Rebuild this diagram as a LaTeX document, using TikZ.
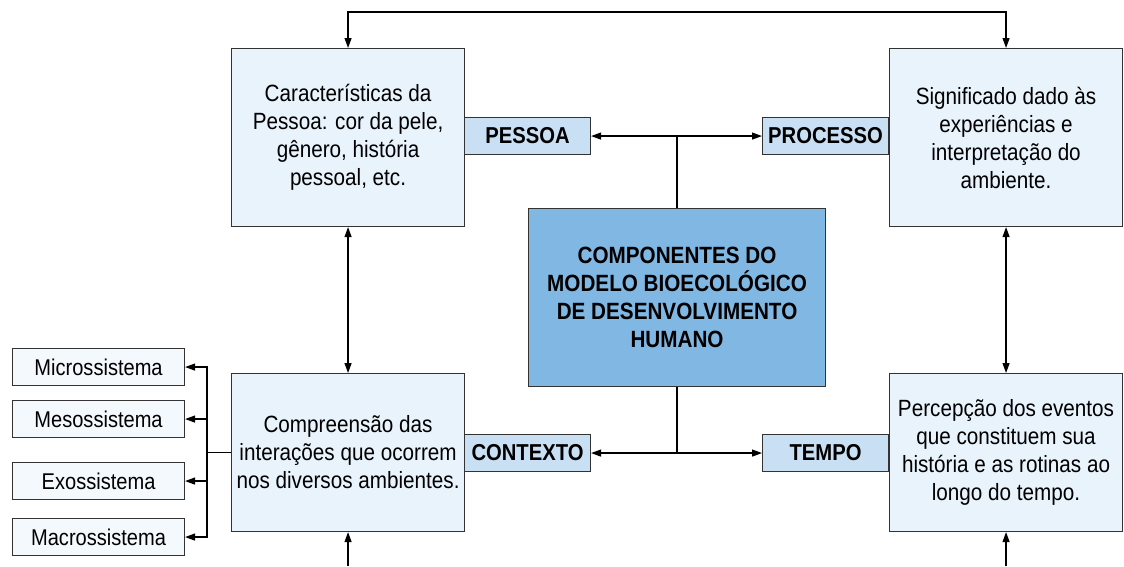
\documentclass[tikz,border=0pt]{standalone}
\usepackage{fontspec}
\setmainfont{Liberation Sans}[FakeStretch=0.88]
\usetikzlibrary{arrows.meta}
\definecolor{lightbox}{HTML}{E8F3FC}
\definecolor{labelbox}{HTML}{C8DFF4}
\definecolor{centerbox}{HTML}{80B7E3}
\definecolor{sidebox}{HTML}{F4F9FE}
\definecolor{edge}{HTML}{333333}
\tikzset{
  base/.style={draw=edge, line width=1.1pt, rectangle, inner sep=2pt, align=center, anchor=north west},
  infobox/.style={base, fill=lightbox, minimum width=233pt, font=\fontsize{23.5}{28}\selectfont},
  tagbox/.style={base, fill=labelbox, minimum width=126pt, minimum height=37pt, font=\bfseries\fontsize{23}{26}\selectfont},
  corebox/.style={base, fill=centerbox, minimum width=297pt, minimum height=178pt, font=\bfseries\fontsize{23.5}{28}\selectfont},
  sysbox/.style={base, fill=sidebox, minimum width=172pt, minimum height=37pt, font=\fontsize{22.8}{26}\selectfont},
  link/.style={draw=black, line width=1.2pt},
  tip/.style={-{Triangle[length=10pt,width=7pt]}},
  dtip/.style={{Triangle[length=10pt,width=7pt]}-{Triangle[length=10pt,width=7pt]}}
}
\begin{document}
\begin{tikzpicture}[x=1pt,y=-1pt]
\useasboundingbox (0,0) rectangle (1124,566);
% main boxes
\node[infobox, minimum height=178pt] (tl) at (231,48) {Características da\\Pessoa: cor da pele,\\gênero, história\\pessoal, etc.};
\node[infobox, minimum height=178pt] (tr) at (889,48) {Significado dado às\\experiências e\\interpretação do\\ambiente.};
\node[infobox, minimum height=158pt] (bl) at (231,373) {Compreensão das\\interações que ocorrem\\nos diversos ambientes.};
\node[infobox, minimum height=158pt] (br) at (889,373) {Percepção dos eventos\\que constituem sua\\história e as rotinas ao\\longo do tempo.};
\node[corebox] (core) at (528,208) {COMPONENTES DO\\MODELO BIOECOLÓGICO\\DE DESENVOLVIMENTO\\HUMANO};
% tags
\node[tagbox] (pessoa) at (464,117) {PESSOA};
\node[tagbox] (processo) at (762,117) {PROCESSO};
\node[tagbox] (contexto) at (464,434) {CONTEXTO};
\node[tagbox] (tempo) at (762,434) {TEMPO};
% systems
\node[sysbox] (micro) at (12,348) {Microssistema};
\node[sysbox] (meso) at (12,400) {Mesossistema};
\node[sysbox] (exo) at (12,462) {Exossistema};
\node[sysbox] (macro) at (12,518) {Macrossistema};
% coordinates
\coordinate (topline) at (676,12);
\coordinate (bottomline) at (676,566);
% connectors
\draw[link, dtip] (tl.north) -- (tl.north |- topline) -| (tr.north);
\draw[link, tip] (core.north) |- (pessoa.east);
\draw[link, tip] (core.north) |- (processo.west);
\draw[link, tip] (core.south) |- (contexto.east);
\draw[link, tip] (core.south) |- (tempo.west);
\draw[link, dtip] (tl.south) -- (bl.north);
\draw[link, dtip] (tr.south) -- (br.north);
\draw[link, tip] (bl.south |- bottomline) -- (bl.south);
\draw[link, tip] (br.south |- bottomline) -- (br.south);
\draw[link] (bl.west) -- ++(-24,0) coordinate (hub);
\draw[link, tip] (hub) |- (micro.east);
\draw[link, tip] (hub) |- (meso.east);
\draw[link, tip] (hub) |- (exo.east);
\draw[link, tip] (hub) |- (macro.east);
\end{tikzpicture}
\end{document}
